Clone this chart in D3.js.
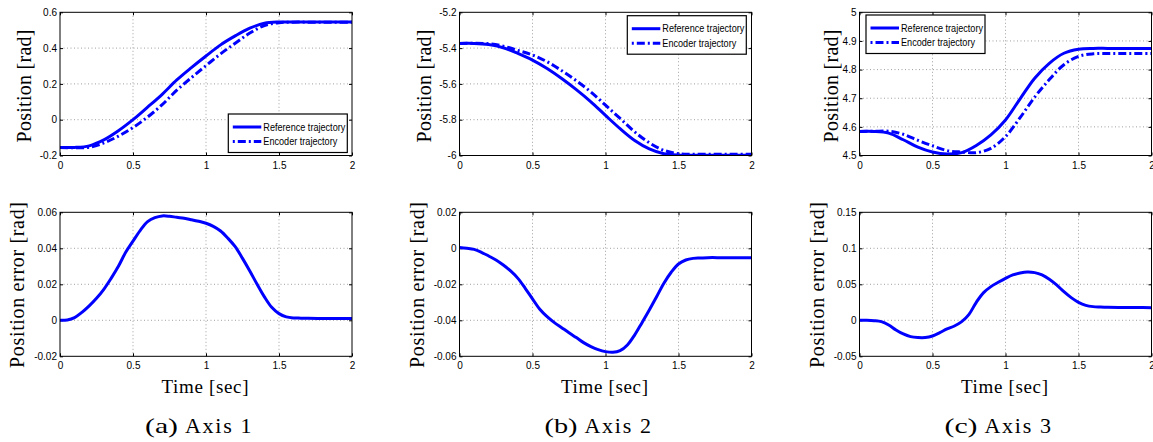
<!DOCTYPE html>
<html><head><meta charset="utf-8">
<script src="https://cdn.jsdelivr.net/npm/d3@7"></script>
<style>body{margin:0;background:#fff}svg{display:block}</style>
</head><body>
<svg id="c" width="1153" height="442"></svg>
<script>
// ---------- DATA ----------
const tPos = [0,0.1,0.2,0.3,0.4,0.5,0.6,0.7,0.8,0.9,1.0,1.1,1.2,1.3,1.4,1.5,1.6,1.7,1.8,1.9,2.0];
const ref1 = [-0.155,-0.155,-0.146,-0.113,-0.062,0.0,0.070,0.142,0.222,0.291,0.356,0.418,0.468,0.511,0.539,0.546,0.546,0.546,0.546,0.546,0.546];
const enc1 = [-0.155,-0.1565,-0.154,-0.130,-0.092,-0.044,0.015,0.084,0.165,0.235,0.302,0.368,0.427,0.484,0.526,0.542,0.545,0.545,0.545,0.545,0.545];
const ref2 = [-5.374,-5.374,-5.38,-5.398,-5.43,-5.467,-5.514,-5.57,-5.632,-5.70,-5.776,-5.85,-5.916,-5.963,-5.99,-5.998,-5.998,-5.998,-5.998,-5.998,-5.998];
const enc2 = [-5.374,-5.373,-5.376,-5.389,-5.413,-5.439,-5.476,-5.526,-5.582,-5.645,-5.719,-5.793,-5.868,-5.929,-5.971,-5.99,-5.993,-5.993,-5.993,-5.993,-5.993];
const ref3 = [4.584,4.584,4.578,4.555,4.529,4.512,4.505,4.51,4.535,4.572,4.624,4.698,4.77,4.822,4.857,4.871,4.874,4.874,4.874,4.874,4.874];
const enc3 = [4.584,4.5845,4.585,4.574,4.553,4.534,4.517,4.512,4.51,4.525,4.566,4.632,4.704,4.765,4.817,4.846,4.855,4.856,4.856,4.856,4.856];

const tErr = [0,0.05,0.1,0.15,0.2,0.25,0.3,0.35,0.4,0.45,0.5,0.55,0.6,0.65,0.7,0.75,0.8,0.85,0.9,0.95,1.0,1.05,1.1,1.15,1.2,1.25,1.3,1.35,1.4,1.45,1.5,1.55,1.6,1.65,1.7,1.8,1.9,2.0];
const err1 = [0,0.0002,0.0015,0.0044,0.008,0.0122,0.0172,0.0233,0.030,0.0378,0.044,0.050,0.0548,0.057,0.058,0.0578,0.0572,0.0567,0.0559,0.055,0.0539,0.0522,0.0496,0.0456,0.0409,0.0344,0.0274,0.020,0.013,0.0072,0.0037,0.0019,0.0013,0.0012,0.0011,0.001,0.001,0.001];
const err2 = [0.0004,0,-0.0006,-0.0022,-0.0043,-0.0065,-0.0093,-0.0126,-0.0167,-0.0222,-0.0281,-0.0339,-0.038,-0.0413,-0.0441,-0.0469,-0.0496,-0.0524,-0.0546,-0.0563,-0.0574,-0.0578,-0.0569,-0.0537,-0.0481,-0.0413,-0.0343,-0.0269,-0.0194,-0.0133,-0.0087,-0.0065,-0.0056,-0.0054,-0.0052,-0.0052,-0.0052,-0.0052];
const err3 = [0,0,-0.0005,-0.0019,-0.0065,-0.0134,-0.019,-0.0227,-0.024,-0.024,-0.0218,-0.0171,-0.012,-0.0079,-0.0019,0.0083,0.025,0.0384,0.0468,0.0528,0.0583,0.063,0.0657,0.0671,0.0662,0.063,0.057,0.0491,0.0398,0.0315,0.025,0.0208,0.019,0.0184,0.018,0.0178,0.0177,0.0176];

const xTicks = [0,0.5,1,1.5,2];
const xTickLabels = ["0","0.5","1","1.5","2"];
const posTicks1 = [-0.2,0,0.2,0.4,0.6];   const posLabels1 = ["-0.2","0","0.2","0.4","0.6"];
const posTicks2 = [-6,-5.8,-5.6,-5.4,-5.2]; const posLabels2 = ["-6","-5.8","-5.6","-5.4","-5.2"];
const posTicks3 = [4.5,4.6,4.7,4.8,4.9,5]; const posLabels3 = ["4.5","4.6","4.7","4.8","4.9","5"];
const errTicks1 = [-0.02,0,0.02,0.04,0.06]; const errLabels1 = ["-0.02","0","0.02","0.04","0.06"];
const errTicks2 = [-0.06,-0.04,-0.02,0,0.02]; const errLabels2 = ["-0.06","-0.04","-0.02","0","0.02"];
const errTicks3 = [-0.05,0,0.05,0.1,0.15]; const errLabels3 = ["-0.05","0","0.05","0.1","0.15"];
const legendLabels = ["Reference trajectory","Encoder trajectory"];
const captionTags = ["(a)","(b)","(c)"];
const captionTexts = ["Axis 1","Axis 2","Axis 3"];
const yLabelPos = "Position [rad]";
const yLabelErr = "Position error [rad]";
const xLabel = "Time [sec]";

// ---------- LAYOUT ----------
const svg = d3.select("#c");
const BLUE = "#0000ff";
const colLeft = [60, 459.5, 859.5], plotW = 292;
const rows = [{top:12.3, h:143.2}, {top:212.3, h:144}];
const tickFont = "'Liberation Sans Narrow','Liberation Sans',Arial,sans-serif";
const serif = "'Liberation Serif','Times New Roman',serif";

const posPanels = [
  {ref:ref1, enc:enc1, ticks:posTicks1, labels:posLabels1, lab:31, leg:{x:228.3,y:114}},
  {ref:ref2, enc:enc2, ticks:posTicks2, labels:posLabels2, lab:431, leg:{x:627.3,y:15.7}},
  {ref:ref3, enc:enc3, ticks:posTicks3, labels:posLabels3, lab:838, leg:{x:866,y:15}}
];
const errPanels = [
  {err:err1, ticks:errTicks1, labels:errLabels1, lab:24},
  {err:err2, ticks:errTicks2, labels:errLabels2, lab:424},
  {err:err3, ticks:errTicks3, labels:errLabels3, lab:824}
];

let clipId = 0;
function panel(left, row, ticks, labels) {
  const x = d3.scaleLinear().domain([0,2]).range([left, left+plotW]);
  const y = d3.scaleLinear().domain([ticks[0], ticks[ticks.length-1]]).range([row.top+row.h, row.top]);
  const g = svg.append("g");
  g.selectAll(null).data(xTicks.slice(1,-1)).enter().append("line")
    .attr("x1", d=>x(d)).attr("x2", d=>x(d)).attr("y1", row.top).attr("y2", row.top+row.h)
    .attr("stroke","#888").attr("stroke-width",0.8).attr("stroke-dasharray","1,2.5");
  g.selectAll(null).data(ticks.slice(1,-1)).enter().append("line")
    .attr("x1", left).attr("x2", left+plotW).attr("y1", d=>y(d)).attr("y2", d=>y(d))
    .attr("stroke","#888").attr("stroke-width",0.8).attr("stroke-dasharray","1,2.5");
  const ax = (gen, tx, ty) => {
    const a = g.append("g").attr("transform",`translate(${tx},${ty})`).call(gen);
    a.select(".domain").remove();
    a.selectAll("line").attr("stroke","#000");
    a.selectAll("text").attr("font-family", tickFont).attr("font-size", 10).attr("fill","#000");
    return a;
  };
  ax(d3.axisBottom(x).tickValues(xTicks).tickFormat((d,i)=>xTickLabels[i]).tickSizeInner(-3).tickSizeOuter(0).tickPadding(6), 0, row.top+row.h);
  ax(d3.axisTop(x).tickValues(xTicks).tickFormat("").tickSizeInner(-3).tickSizeOuter(0), 0, row.top);
  ax(d3.axisLeft(y).tickValues(ticks).tickFormat((d,i)=>labels[i]).tickSizeInner(-3).tickSizeOuter(0).tickPadding(3), left, 0);
  ax(d3.axisRight(y).tickValues(ticks).tickFormat("").tickSizeInner(-3).tickSizeOuter(0), left+plotW, 0);
  const id = "clip"+(clipId++);
  svg.append("clipPath").attr("id", id).append("rect")
    .attr("x", left).attr("y", row.top).attr("width", plotW).attr("height", row.h);
  const plot = svg.append("g").attr("clip-path", `url(#${id})`);
  return {x, y, g, plot};
}

const line = (x, y, ts) => d3.line().x((d,i)=>x(ts[i])).y(d=>y(d)).curve(d3.curveCatmullRom.alpha(0.5));

posPanels.forEach((p, c) => {
  const left = colLeft[c], row = rows[0];
  const {x, y, plot} = panel(left, row, p.ticks, p.labels);
  plot.append("path").datum(p.ref).attr("d", line(x,y,tPos))
    .attr("fill","none").attr("stroke",BLUE).attr("stroke-width",3);
  plot.append("path").datum(p.enc).attr("d", line(x,y,tPos))
    .attr("fill","none").attr("stroke",BLUE).attr("stroke-width",3).attr("stroke-dasharray","8,3,2,3");
  svg.append("rect").attr("x",left).attr("y",row.top).attr("width",plotW).attr("height",row.h)
    .attr("fill","none").attr("stroke","#000").attr("stroke-width",1);
  const L = svg.append("g").attr("transform",`translate(${p.leg.x},${p.leg.y})`);
  L.append("rect").attr("width",119).attr("height",38.5).attr("fill","#fff").attr("stroke","#000").attr("stroke-width",1.2);
  [0,1].forEach(k => {
    const yy = 13 + k*14.5;
    L.append("line").attr("x1",4.5).attr("x2",33).attr("y1",yy).attr("y2",yy)
      .attr("stroke",BLUE).attr("stroke-width",3).attr("stroke-dasharray", k ? "2,3,8,3" : null);
    L.append("text").attr("x",35).attr("y",yy+3.5).text(legendLabels[k])
      .attr("font-family",tickFont).attr("font-size",10.5)
      .attr("textLength", k ? 74 : 82).attr("lengthAdjust","spacingAndGlyphs");
  });
  svg.append("text").attr("transform",`translate(${p.lab},86) rotate(-90)`)
    .attr("text-anchor","middle").attr("font-family",serif).attr("font-size",20)
    .attr("textLength",113).attr("lengthAdjust","spacing").text(yLabelPos);
});

errPanels.forEach((p, c) => {
  const left = colLeft[c], row = rows[1];
  const {x, y, plot} = panel(left, row, p.ticks, p.labels);
  plot.append("path").datum(p.err).attr("d", line(x,y,tErr))
    .attr("fill","none").attr("stroke",BLUE).attr("stroke-width",3);
  svg.append("rect").attr("x",left).attr("y",row.top).attr("width",plotW).attr("height",row.h)
    .attr("fill","none").attr("stroke","#000").attr("stroke-width",1);
  svg.append("text").attr("transform",`translate(${p.lab},285) rotate(-90)`)
    .attr("text-anchor","middle").attr("font-family",serif).attr("font-size",20)
    .attr("textLength",166).attr("lengthAdjust","spacing").text(yLabelErr);
  svg.append("text").attr("x", left+plotW/2 - 1).attr("y", 393)
    .attr("text-anchor","middle").attr("font-family",serif).attr("font-size",19)
    .attr("textLength",87).attr("lengthAdjust","spacing").text(xLabel);
  const cx = left + plotW/2 - 7.7;
  svg.append("text").attr("x", cx - 53.3).attr("y", 433)
    .attr("font-family",serif).attr("font-size",22)
    .attr("textLength",33).attr("lengthAdjust","spacingAndGlyphs").text(captionTags[c]);
  svg.append("text").attr("x", cx - 13.3).attr("y", 433)
    .attr("font-family",serif).attr("font-size",22)
    .attr("textLength",66.6).attr("lengthAdjust","spacing").text(captionTexts[c]);
});
</script>
</body></html>
